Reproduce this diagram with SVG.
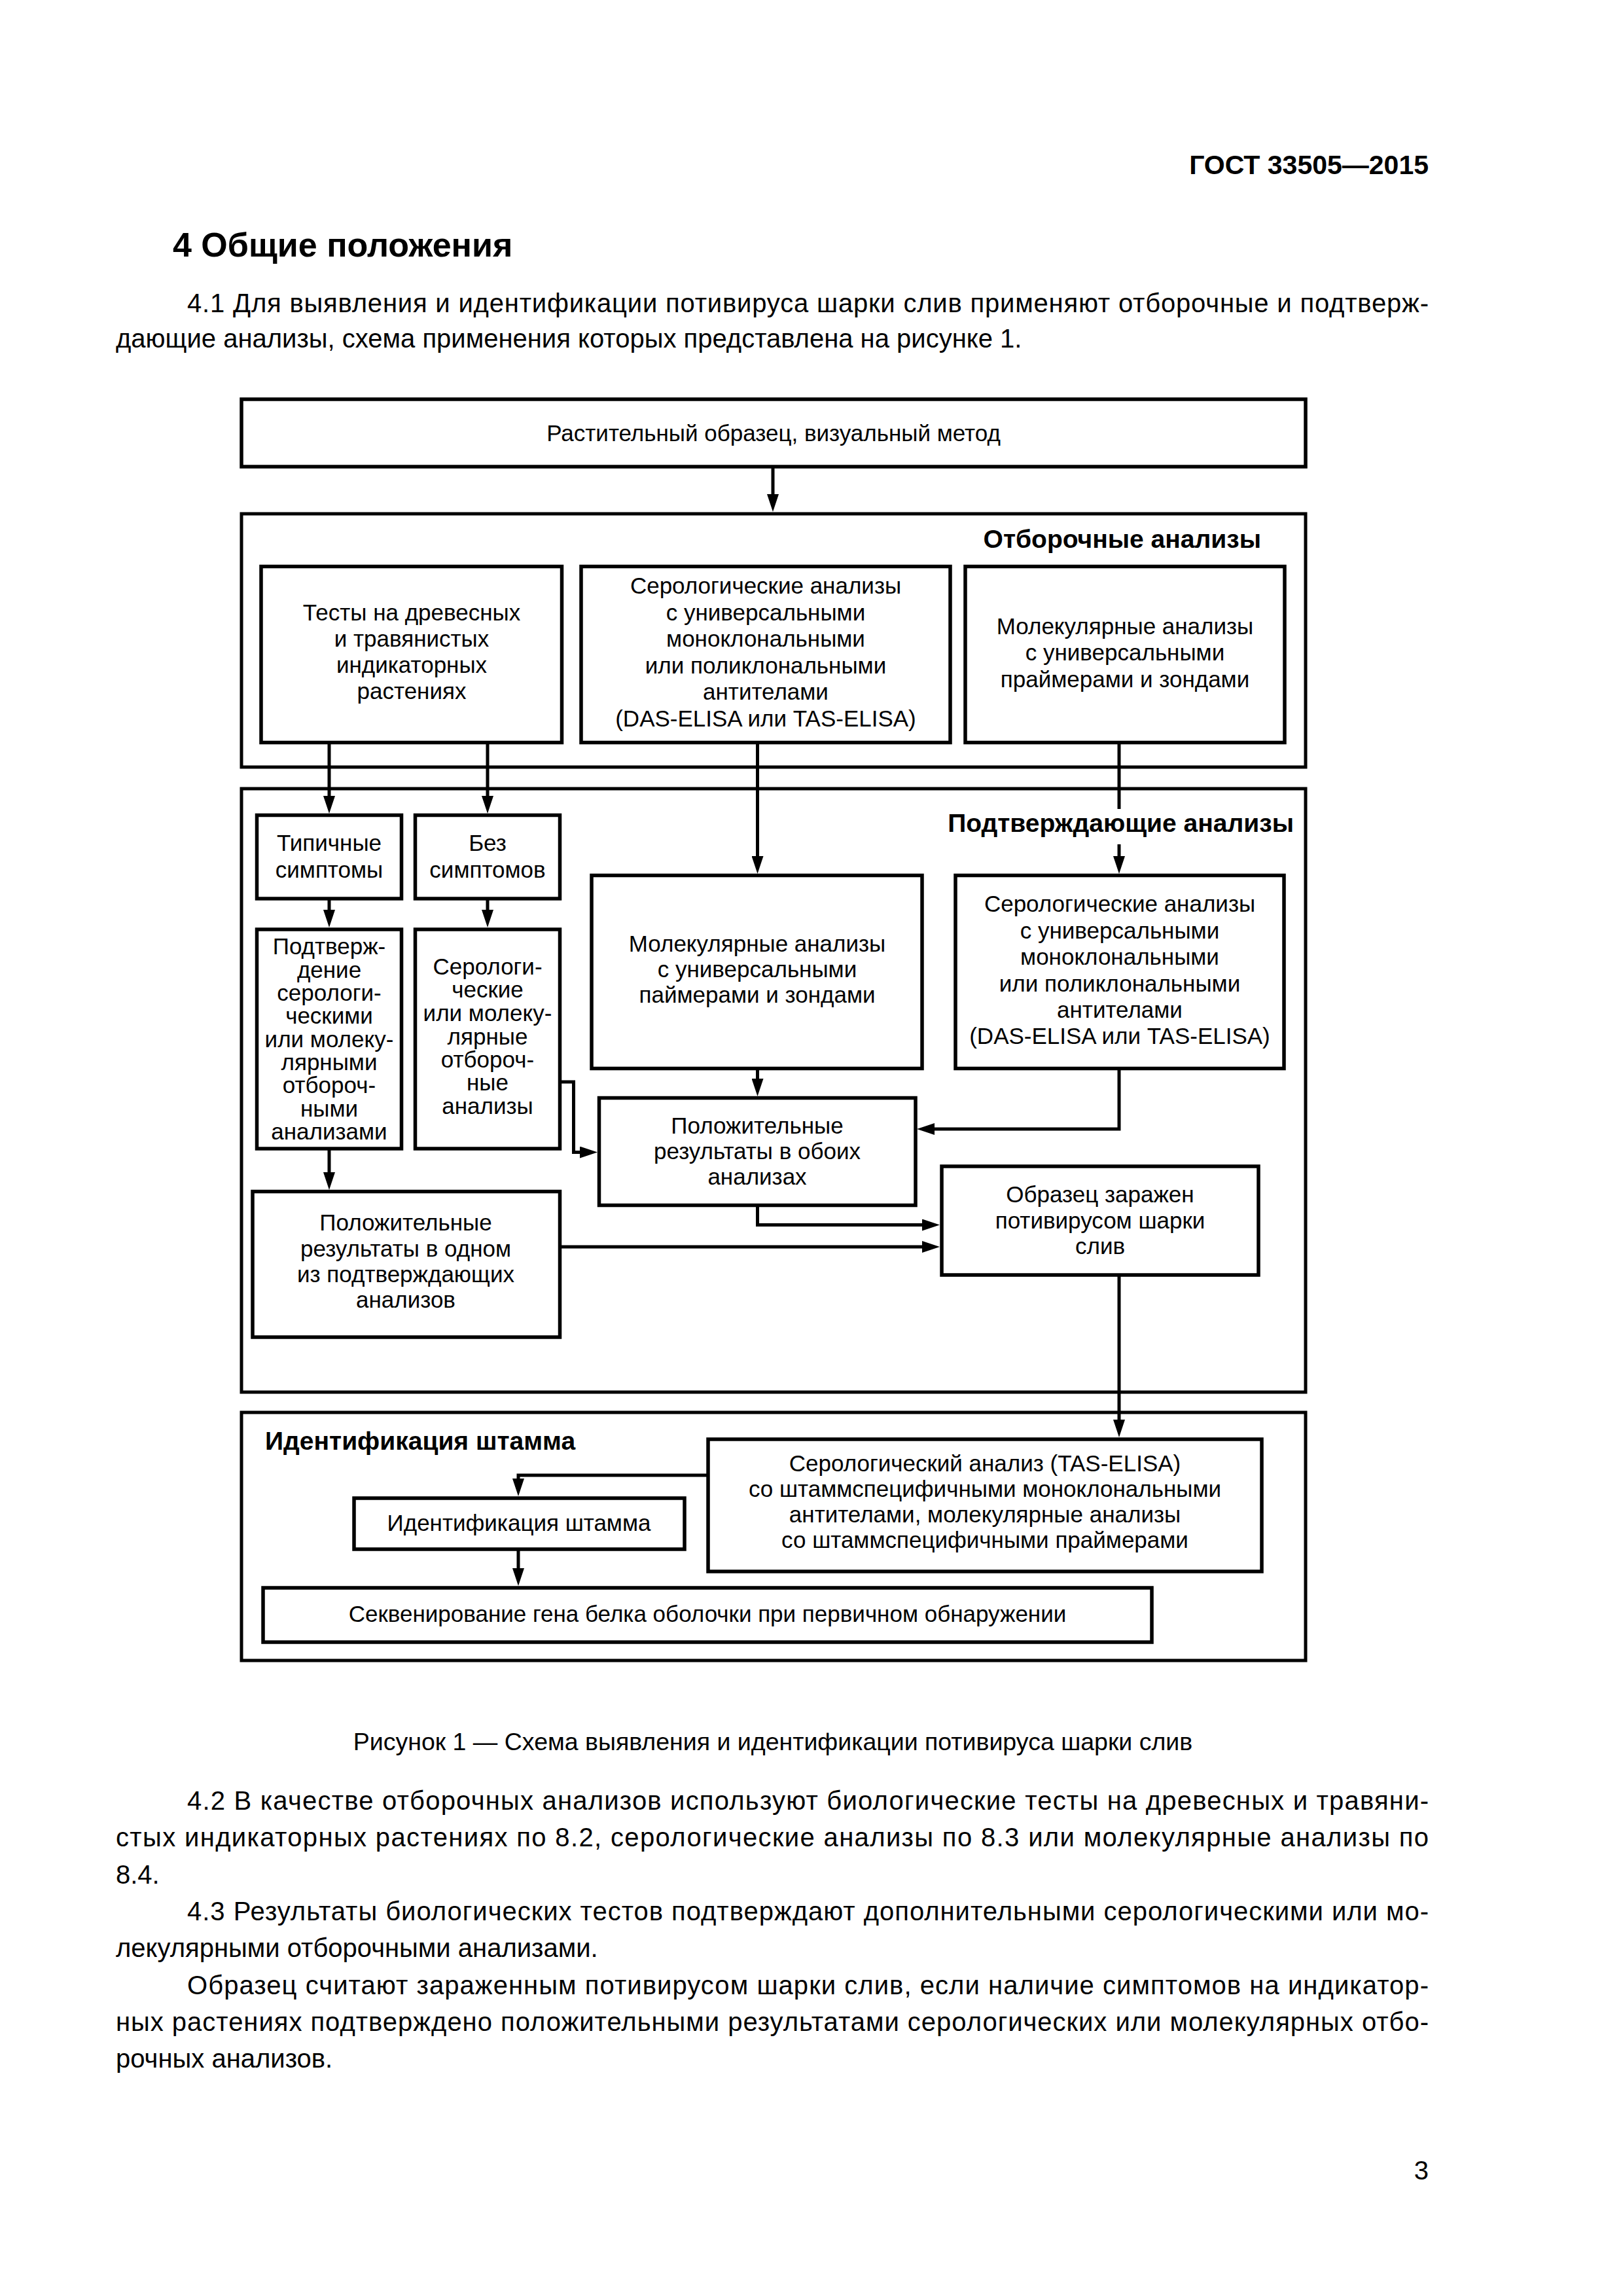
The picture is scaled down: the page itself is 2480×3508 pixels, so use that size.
<svg xmlns="http://www.w3.org/2000/svg" width="2480" height="3508" viewBox="0 0 2480 3508">
<style>
text{font-family:"Liberation Sans",Arial,"DejaVu Sans",sans-serif;fill:#000}
.t{font-size:35px;text-anchor:middle}
.lb{font-size:39px;font-weight:bold}
.body{font-size:40px}
.box{fill:#fff;stroke:#000;stroke-width:5.5}
.sec{fill:none;stroke:#000;stroke-width:5}
.ln{fill:none;stroke:#000;stroke-width:5}
.ar{fill:none;stroke:#000;stroke-width:5;marker-end:url(#a)}
</style>
<defs>
<marker id="a" markerUnits="userSpaceOnUse" markerWidth="28" markerHeight="18" viewBox="0 0 28 18" refX="17" refY="9" orient="auto"><path d="M0,0 L27,9 L0,18 Z" fill="#000"/></marker>
</defs>
<rect width="2480" height="3508" fill="#fff"/>

<g id="page-text">
<text x="2183" y="266" font-size="41" font-weight="bold" text-anchor="end">ГОСТ 33505—2015</text>
<text x="264" y="392" font-size="52" font-weight="bold">4 Общие положения</text>
<text class="body" x="286" y="477" textLength="1897">4.1 Для выявления и идентификации потивируса шарки слив применяют отборочные и подтверж-</text>
<text class="body" x="177" y="531">дающие анализы, схема применения которых представлена на рисунке 1.</text>
<text x="1181" y="2674" font-size="37.5" text-anchor="middle">Рисунок 1 — Схема выявления и идентификации потивируса шарки слив</text>
<text class="body" x="286" y="2765" textLength="1897">4.2 В качестве отборочных анализов используют биологические тесты на древесных и травяни-</text>
<text class="body" x="177" y="2821" textLength="2006">стых индикаторных растениях по 8.2, серологические анализы по 8.3 или молекулярные анализы по</text>
<text class="body" x="177" y="2878">8.4.</text>
<text class="body" x="286" y="2934" textLength="1897">4.3 Результаты биологических тестов подтверждают дополнительными серологическими или мо-</text>
<text class="body" x="177" y="2990">лекулярными отборочными анализами.</text>
<text class="body" x="286" y="3047" textLength="1897">Образец считают зараженным потивирусом шарки слив, если наличие симптомов на индикатор-</text>
<text class="body" x="177" y="3103" textLength="2006">ных растениях подтверждено положительными результатами серологических или молекулярных отбо-</text>
<text class="body" x="177" y="3159">рочных анализов.</text>
<text class="body" x="2183" y="3330" text-anchor="end">3</text>
</g>

<g id="sections">
<rect class="sec" x="369" y="785" width="1626" height="387"/>
<rect class="sec" x="369" y="1205" width="1626" height="922"/>
<rect class="sec" x="369" y="2158" width="1626" height="379"/>
<text class="lb" x="1927" y="837" text-anchor="end">Отборочные анализы</text>
<text class="lb" x="1977" y="1271" text-anchor="end">Подтверждающие анализы</text>
<text class="lb" x="405" y="2215">Идентификация штамма</text>
</g>

<g id="connectors">
<path class="ar" d="M1181,713 V772"/>
<path class="ar" d="M503,1134.5 V1233"/>
<path class="ar" d="M745,1134.5 V1233"/>
<path class="ar" d="M1157.5,1134.5 V1325"/>
<path class="ln" d="M1710,1134.5 V1236"/>
<path class="ar" d="M1710,1290 V1325"/>
<path class="ar" d="M503,1373 V1407"/>
<path class="ar" d="M745,1373 V1407"/>
<path class="ar" d="M503,1755 V1808"/>
<path class="ar" d="M855.5,1653 H876.5 V1760.5 H903"/>
<path class="ar" d="M1157.5,1632.5 V1665"/>
<path class="ar" d="M1710,1632.5 V1725 H1411"/>
<path class="ar" d="M1157.5,1841.5 V1871.5 H1426"/>
<path class="ar" d="M855.5,1905 H1426"/>
<path class="ar" d="M1710,1948 V2186"/>
<path class="ar" d="M1082,2254 H792 V2276"/>
<path class="ar" d="M792,2367 V2413"/>
</g>

<g id="n-top">
<rect class="box" x="369" y="610" width="1626" height="103"/>
<text class="t" x="1182" y="674">Растительный образец, визуальный метод</text>
</g>
<g id="n-tests">
<rect class="box" x="399" y="865.5" width="459.5" height="269"/>
<text class="t"><tspan x="629" y="948">Тесты на древесных</tspan><tspan x="629" y="988">и травянистых</tspan><tspan x="629" y="1028">индикаторных</tspan><tspan x="629" y="1068">растениях</tspan></text>
</g>
<g id="n-sero1">
<rect class="box" x="888" y="865.5" width="564" height="269"/>
<text class="t"><tspan x="1170" y="907">Серологические анализы</tspan><tspan x="1170" y="948">с универсальными</tspan><tspan x="1170" y="988">моноклональными</tspan><tspan x="1170" y="1029">или поликлональными</tspan><tspan x="1170" y="1069">антителами</tspan><tspan x="1170" y="1110">(DAS-ELISA или TAS-ELISA)</tspan></text>
</g>
<g id="n-mol1">
<rect class="box" x="1475" y="865.5" width="488" height="269"/>
<text class="t"><tspan x="1719" y="969">Молекулярные анализы</tspan><tspan x="1719" y="1009">с универсальными</tspan><tspan x="1719" y="1050">праймерами и зондами</tspan></text>
</g>
<g id="n-typ">
<rect class="box" x="392.5" y="1245.5" width="221" height="127.5"/>
<text class="t"><tspan x="503" y="1300">Типичные</tspan><tspan x="503" y="1341">симптомы</tspan></text>
</g>
<g id="n-nosym">
<rect class="box" x="634.5" y="1245.5" width="221" height="127.5"/>
<text class="t"><tspan x="745" y="1300">Без</tspan><tspan x="745" y="1341">симптомов</tspan></text>
</g>
<g id="n-confirm">
<rect class="box" x="392.5" y="1420" width="221" height="335"/>
<text class="t"><tspan x="503" y="1458">Подтверж-</tspan><tspan x="503" y="1494">дение</tspan><tspan x="503" y="1529">серологи-</tspan><tspan x="503" y="1564">ческими</tspan><tspan x="503" y="1600">или молеку-</tspan><tspan x="503" y="1635">лярными</tspan><tspan x="503" y="1670">отбороч-</tspan><tspan x="503" y="1706">ными</tspan><tspan x="503" y="1741">анализами</tspan></text>
</g>
<g id="n-serosel">
<rect class="box" x="634.5" y="1420" width="221" height="335"/>
<text class="t"><tspan x="745" y="1489">Серологи-</tspan><tspan x="745" y="1524">ческие</tspan><tspan x="745" y="1560">или молеку-</tspan><tspan x="745" y="1596">лярные</tspan><tspan x="745" y="1631">отбороч-</tspan><tspan x="745" y="1666">ные</tspan><tspan x="745" y="1702">анализы</tspan></text>
</g>
<g id="n-mol2">
<rect class="box" x="904" y="1337.5" width="505" height="295"/>
<text class="t"><tspan x="1157" y="1454">Молекулярные анализы</tspan><tspan x="1157" y="1493">с универсальными</tspan><tspan x="1157" y="1532">паймерами и зондами</tspan></text>
</g>
<g id="n-sero2">
<rect class="box" x="1460" y="1337.5" width="502" height="295"/>
<text class="t"><tspan x="1711" y="1393">Серологические анализы</tspan><tspan x="1711" y="1434">с универсальными</tspan><tspan x="1711" y="1474">моноклональными</tspan><tspan x="1711" y="1515">или поликлональными</tspan><tspan x="1711" y="1555">антителами</tspan><tspan x="1711" y="1595">(DAS-ELISA или TAS-ELISA)</tspan></text>
</g>
<g id="n-posboth">
<rect class="box" x="915.5" y="1677.5" width="483.5" height="164"/>
<text class="t"><tspan x="1157" y="1732">Положительные</tspan><tspan x="1157" y="1771">результаты в обоих</tspan><tspan x="1157" y="1810">анализах</tspan></text>
</g>
<g id="n-infected">
<rect class="box" x="1439" y="1782" width="484" height="166"/>
<text class="t"><tspan x="1681" y="1837">Образец заражен</tspan><tspan x="1681" y="1877">потивирусом шарки</tspan><tspan x="1681" y="1916">слив</tspan></text>
</g>
<g id="n-posone">
<rect class="box" x="386" y="1820.5" width="469.5" height="222.5"/>
<text class="t"><tspan x="620" y="1880">Положительные</tspan><tspan x="620" y="1920">результаты в одном</tspan><tspan x="620" y="1959">из подтверждающих</tspan><tspan x="620" y="1998">анализов</tspan></text>
</g>
<g id="n-tas">
<rect class="box" x="1082" y="2199" width="846" height="202"/>
<text class="t"><tspan x="1505" y="2248">Серологический анализ (TAS-ELISA)</tspan><tspan x="1505" y="2287">со штаммспецифичными моноклональными</tspan><tspan x="1505" y="2326">антителами, молекулярные анализы</tspan><tspan x="1505" y="2365">со штаммспецифичными праймерами</tspan></text>
</g>
<g id="n-ident">
<rect class="box" x="541" y="2289" width="505" height="78"/>
<text class="t" x="793" y="2339">Идентификация штамма</text>
</g>
<g id="n-seq">
<rect class="box" x="402" y="2426" width="1358" height="83"/>
<text class="t" x="1081" y="2478">Секвенирование гена белка оболочки при первичном обнаружении</text>
</g>
</svg>
